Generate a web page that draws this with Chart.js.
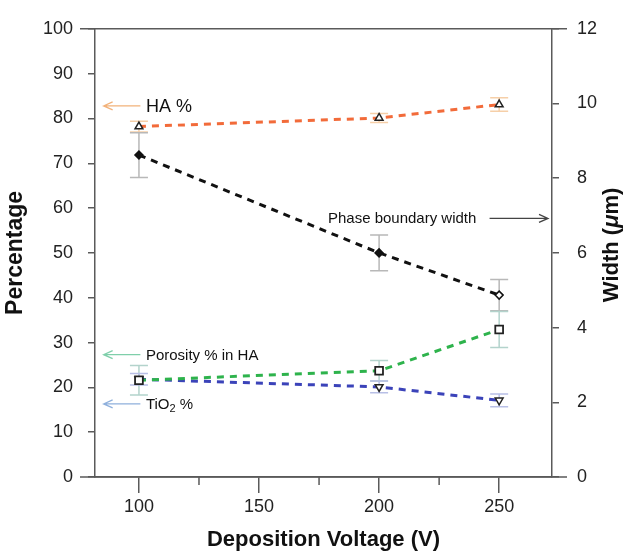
<!DOCTYPE html>
<html>
<head>
<meta charset="utf-8">
<script src="https://cdn.jsdelivr.net/npm/chart.js@4.4.1/dist/chart.umd.min.js"></script>
<style>
  html, body { margin: 0; padding: 0; background: #fff; }
  #wrap { width: 628px; height: 553px; }
</style>
</head>
<body>
<div id="wrap"><canvas id="chart" width="628" height="553"></canvas></div>
<script>
// Data
const voltage = [100, 200, 250];
const haPct = [78.2, 80.1, 83.1];
const haErr = [1.2, 1.0, 1.5];
const phaseWidth = [8.62, 6.0, 4.87];     // µm, right axis
const phaseErr = [0.6, 0.48, 0.42];
const porosityPct = [21.6, 23.7, 32.9];
const porosityErr = [3.3, 2.3, 4.0];
const tio2Pct = [21.8, 20.1, 17.1];
const tio2Err = [1.3, 1.3, 1.4];

// Axis ticks
const xTicks = [100, 150, 200, 250];
const xMinorTicks = [125, 175, 225];

const FONT = "'Liberation Sans', Arial, Helvetica, sans-serif";
const AXIS = '#5a5a5a';

function pts(ys) {
  return voltage.map((v, i) => ({ x: v, y: ys[i] }));
}

// Error bars for each dataset (drawn behind the points)
const errorBars = {
  id: 'errorBars',
  beforeDatasetsDraw(chart) {
    const ctx = chart.ctx;
    chart.data.datasets.forEach((ds, di) => {
      const xs = chart.scales.x;
      const ys = chart.scales[ds.yAxisID];
      ctx.save();
      ctx.strokeStyle = ds.errColor;
      ctx.lineWidth = 1.5;
      ds.data.forEach((p, i) => {
        const px = xs.getPixelForValue(p.x);
        const top = ys.getPixelForValue(p.y + ds.errors[i]);
        const bot = ys.getPixelForValue(p.y - ds.errors[i]);
        ctx.beginPath();
        ctx.moveTo(px, top); ctx.lineTo(px, bot);
        ctx.moveTo(px - 9, top); ctx.lineTo(px + 9, top);
        ctx.moveTo(px - 9, bot); ctx.lineTo(px + 9, bot);
        ctx.stroke();
      });
      ctx.restore();
    });
  }
};

// Frame, minor ticks, labels with arrows, right axis title
const decorations = {
  id: 'decorations',
  afterDraw(chart) {
    const ctx = chart.ctx;
    const a = chart.chartArea;
    const xs = chart.scales.x, yl = chart.scales.y;
    ctx.save();
    ctx.strokeStyle = AXIS;
    ctx.lineWidth = 1.5;
    ctx.beginPath();
    ctx.moveTo(a.left - 15, a.top); ctx.lineTo(a.right + 15, a.top);
    ctx.moveTo(a.left - 15, a.bottom); ctx.lineTo(a.right + 15, a.bottom);
    xMinorTicks.forEach(v => {
      const px = xs.getPixelForValue(v);
      ctx.moveTo(px, a.bottom); ctx.lineTo(px, a.bottom + 8);
    });
    ctx.stroke();

    function arrow(x1, x2, y, color, headLeft) {
      ctx.strokeStyle = color;
      ctx.lineWidth = 1.3;
      ctx.beginPath();
      ctx.moveTo(x1, y); ctx.lineTo(x2, y);
      const hx = headLeft ? Math.min(x1, x2) : Math.max(x1, x2);
      const d = headLeft ? 9 : -9;
      ctx.moveTo(hx + d, y - 4); ctx.lineTo(hx, y); ctx.lineTo(hx + d, y + 4);
      ctx.stroke();
    }

    ctx.fillStyle = '#111';
    ctx.textBaseline = 'middle';
    ctx.textAlign = 'left';
    const tx = xs.getPixelForValue(102.9);
    const ax1 = xs.getPixelForValue(85.3);
    const ax2 = xs.getPixelForValue(100.6);

    // HA %
    let y = yl.getPixelForValue(82.8);
    arrow(ax1, ax2, y, '#f2b27a', true);
    ctx.font = '18px ' + FONT;
    ctx.fillText('HA %', tx, y + 1);

    // Porosity % in HA
    y = yl.getPixelForValue(27.3);
    arrow(ax1, ax2, y, '#7fcfaa', true);
    ctx.font = '15px ' + FONT;
    ctx.fillText('Porosity % in HA', tx, y + 1);

    // TiO2 %
    y = yl.getPixelForValue(16.3);
    arrow(ax1, ax2, y, '#8fb0dc', true);
    ctx.font = '15px ' + FONT;
    ctx.fillText('TiO', tx, y + 1);
    let w = ctx.measureText('TiO').width;
    ctx.font = '11px ' + FONT;
    ctx.fillText('2', tx + w, y + 5);
    w += ctx.measureText('2').width;
    ctx.font = '15px ' + FONT;
    ctx.fillText(' %', tx + w, y + 1);

    // Phase boundary width
    y = yl.getPixelForValue(57.7);
    ctx.font = '15px ' + FONT;
    ctx.fillText('Phase boundary width', xs.getPixelForValue(178.7), y);
    arrow(xs.getPixelForValue(246), a.right - 4, y, '#444', false);

    // Right axis title, reading bottom to top
    ctx.save();
    ctx.translate(612, (a.top + a.bottom) / 2 - 8);
    ctx.rotate(-Math.PI / 2);
    const parts = [
      ['Width (', 'bold 22px '],
      ['\u03bc', 'italic bold 22px '],
      ['m)', 'bold 22px ']
    ];
    let total = 0;
    parts.forEach(p => { ctx.font = p[1] + FONT; total += ctx.measureText(p[0]).width; });
    let cx = -total / 2;
    ctx.fillStyle = '#111';
    parts.forEach(p => {
      ctx.font = p[1] + FONT;
      ctx.fillText(p[0], cx, 0);
      cx += ctx.measureText(p[0]).width;
    });
    ctx.restore();
    ctx.restore();
  }
};

const dash = [7, 6];

new Chart(document.getElementById('chart'), {
  type: 'line',
  data: {
    datasets: [
      {
        label: 'HA %',
        data: pts(haPct),
        errors: haErr,
        errColor: '#f6cfa8',
        yAxisID: 'y',
        borderColor: '#f26b3a',
        borderWidth: 3,
        borderDash: dash,
        pointStyle: 'triangle',
        pointRadius: 4.5,
        pointBorderColor: '#222',
        pointBackgroundColor: '#fff',
        pointBorderWidth: 1.5
      },
      {
        label: 'Phase boundary width',
        data: pts(phaseWidth),
        errors: phaseErr,
        errColor: '#b8b8b8',
        yAxisID: 'y1',
        borderColor: '#111',
        borderWidth: 3,
        borderDash: dash,
        pointStyle: 'rectRot',
        pointRadius: 4,
        pointBorderColor: '#111',
        pointBackgroundColor: ctx => ctx.dataIndex === 2 ? '#fff' : '#111',
        pointBorderWidth: 1.5
      },
      {
        label: 'Porosity % in HA',
        data: pts(porosityPct),
        errors: porosityErr,
        errColor: '#b3d3cc',
        yAxisID: 'y',
        borderColor: '#2eb34c',
        borderWidth: 3,
        borderDash: dash,
        pointStyle: 'rect',
        pointRadius: 5.5,
        pointBorderColor: '#222',
        pointBackgroundColor: '#fff',
        pointBorderWidth: 1.8
      },
      {
        label: 'TiO2 %',
        data: pts(tio2Pct),
        errors: tio2Err,
        errColor: '#b8bfe6',
        yAxisID: 'y',
        borderColor: '#3b43b9',
        borderWidth: 3,
        borderDash: dash,
        pointStyle: 'triangle',
        rotation: 180,
        pointRadius: 4.5,
        pointBorderColor: '#222',
        pointBackgroundColor: '#fff',
        pointBorderWidth: 1.5
      }
    ]
  },
  options: {
    responsive: false,
    animation: false,
    layout: { padding: { top: 21, right: 0, left: 0, bottom: 0 } },
    plugins: {
      legend: { display: false },
      tooltip: { enabled: false }
    },
    scales: {
      x: {
        type: 'linear',
        position: 'bottom',
        min: 81.7,
        max: 272,
        afterBuildTicks: scale => { scale.ticks = xTicks.map(v => ({ value: v })); },
        afterFit: scale => { scale.height = 76; },
        grid: { drawOnChartArea: false, tickLength: 16, color: AXIS, lineWidth: 1.5 },
        border: { color: AXIS, width: 1.5 },
        ticks: { color: '#222', font: { family: FONT, size: 18 }, padding: 3 },
        title: {
          display: true,
          text: 'Deposition Voltage (V)',
          color: '#111',
          font: { family: FONT, size: 22, weight: 'bold' },
          padding: { top: 2, bottom: 0 }
        }
      },
      y: {
        position: 'left',
        min: 0,
        max: 100,
        afterFit: scale => { scale.width = 95; },
        ticks: { stepSize: 10, color: '#222', font: { family: FONT, size: 18 }, padding: 15 },
        grid: { drawOnChartArea: false, tickLength: 7, color: AXIS, lineWidth: 1.5 },
        border: { color: AXIS, width: 1.5 },
        title: {
          display: true,
          text: 'Percentage',
          color: '#111',
          font: { family: FONT, size: 23, weight: 'bold' },
          padding: { top: 2, bottom: 0 }
        }
      },
      y1: {
        position: 'right',
        min: 0,
        max: 12,
        afterFit: scale => { scale.width = 76; },
        ticks: { stepSize: 2, color: '#222', font: { family: FONT, size: 18 }, padding: 18 },
        grid: { drawOnChartArea: false, tickLength: 7, color: AXIS, lineWidth: 1.5 },
        border: { color: AXIS, width: 1.5 }
      }
    }
  },
  plugins: [errorBars, decorations]
});
</script>
</body>
</html>
